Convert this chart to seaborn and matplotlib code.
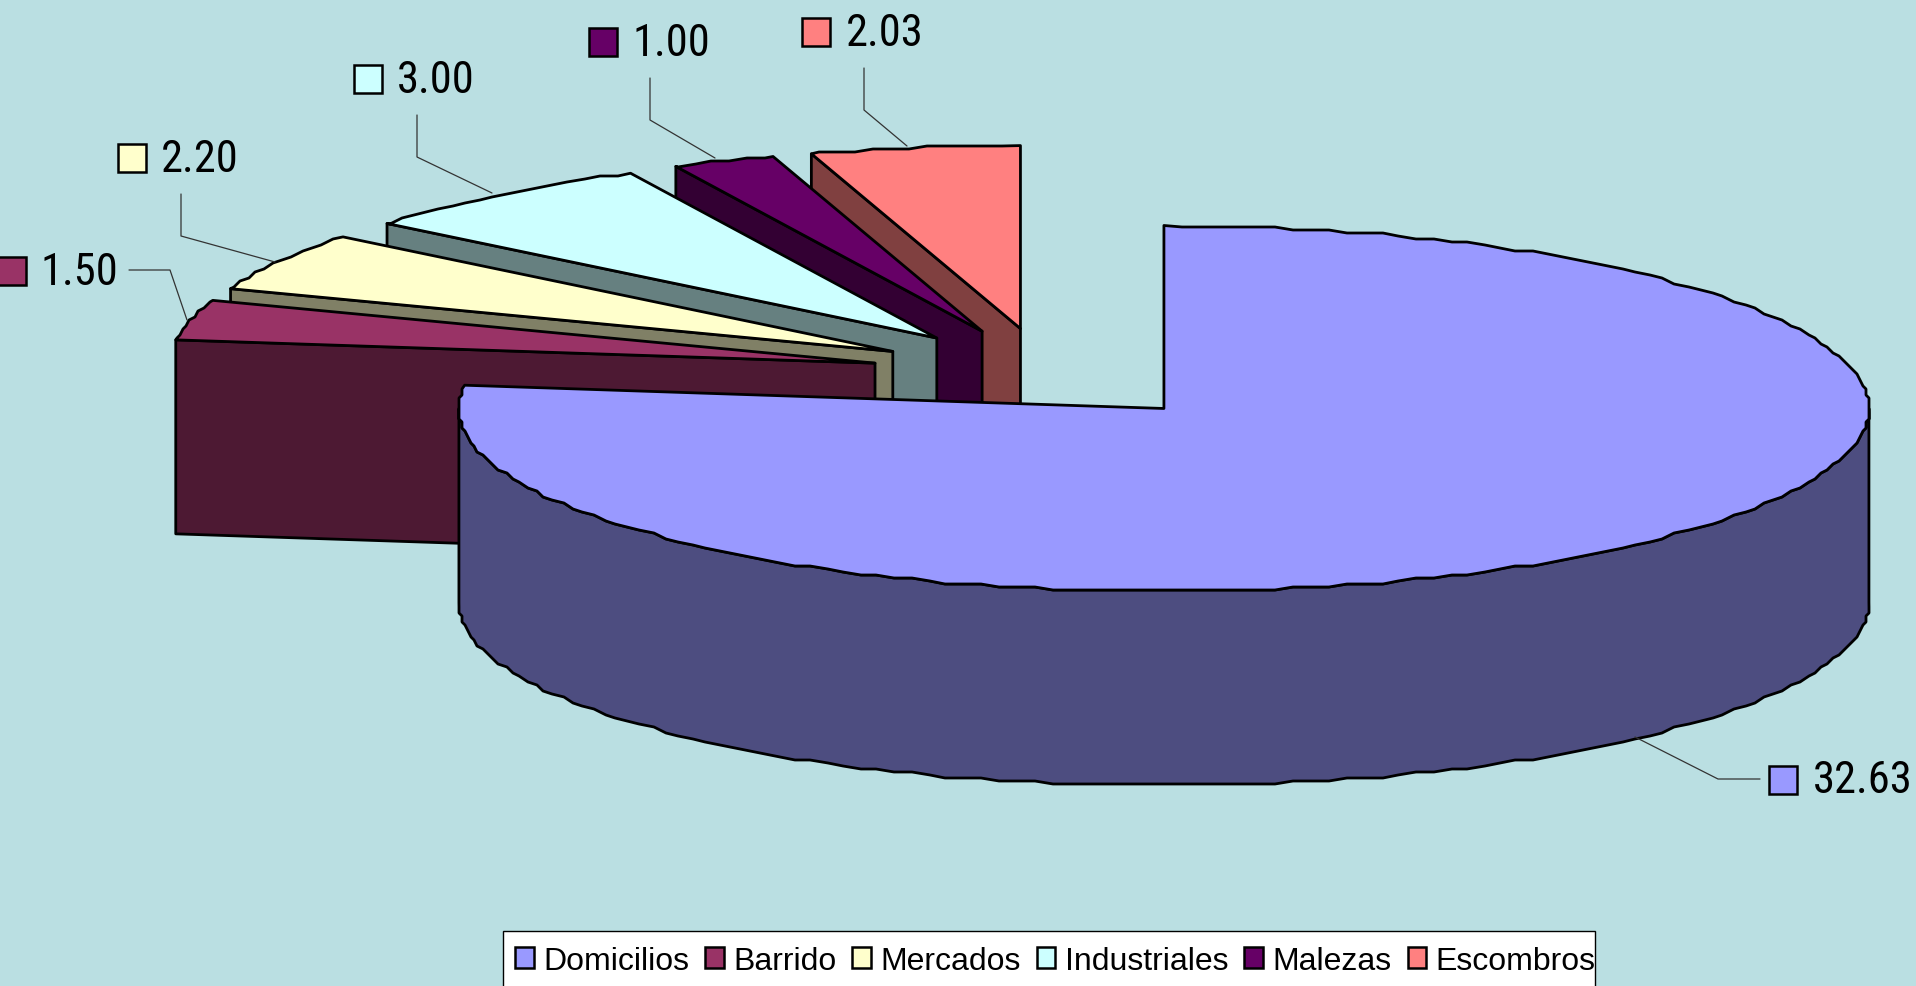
import numpy as np
import matplotlib
matplotlib.use("Agg")
import matplotlib.pyplot as plt
from matplotlib.patches import Patch, Rectangle
import seaborn as sns

categories = ["Domicilios", "Barrido", "Mercados", "Industriales", "Malezas", "Escombros"]
values = [32.63, 1.50, 2.20, 3.00, 1.00, 2.03]
value_labels = ["32.63", "1.50", "2.20", "3.00", "1.00", "2.03"]

top_colors = ["#9999FF", "#993366", "#FFFFCC", "#CCFFFF", "#660066", "#FF8080"]
side_colors = ["#4D4D80", "#4D1933", "#808066", "#668080", "#330033", "#804040"]
background = "#BADFE2"

# pie geometry, in pixels of the final image
center_x, center_y = 1047, 375
radius_x, radius_y = 705, 183
explode = 177
depth = 194
snap = 3  # the original outline is a rough polyline
step = 1.5

# label layout: marker left, marker top, text left, text baseline, leader line x / y
marker_x = [1769, -2, 118, 354, 589, 802]
marker_y = [767, 258, 145, 66, 29, 19]
text_x = [1813, 41, 161, 397, 633, 846]
text_y = [793, 285, 172, 93, 56, 46]
leader_x = [[1635, 1718, 1760], [129, 170, 187], [181, 181, 275],
            [417, 417, 492], [650, 650, 715], [864, 864, 907]]
leader_y = [[738, 780, 780], [271, 271, 321], [195, 237, 263],
            [116, 158, 194], [79, 121, 159], [69, 111, 147]]

sns.set_theme(style="white", rc={"figure.facecolor": background, "axes.facecolor": background})
plt.rcParams["font.family"] = ["Liberation Sans", "DejaVu Sans"]

fig = plt.figure(figsize=(19.16, 9.87), dpi=100)
ax = fig.add_axes([0, 0, 1, 1])
ax.set_xlim(0, 1916)
ax.set_ylim(987, 0)
ax.axis("off")

palette = sns.color_palette(top_colors)
sweeps = np.array(values) / np.sum(values) * 360
starts = np.concatenate([[0], np.cumsum(sweeps)[:-1]])


def arc(tip_x, tip_y, a0, a1):
    # same angle grid for every arc so the top and the wall line up
    grid = np.arange(np.ceil(a0 / step), np.floor(a1 / step) + 1) * step
    inner = grid[(grid > a0) & (grid < a1)]
    angles = np.radians(inner)
    xs = np.round((tip_x + radius_x * np.sin(angles)) / snap) * snap
    ys = np.round((tip_y - radius_y * np.cos(angles)) / snap) * snap
    ends = np.radians([a0, a1])
    ex = tip_x + radius_x * np.sin(ends)
    ey = tip_y - radius_y * np.cos(ends)
    return np.r_[ex[0], xs, ex[1]], np.r_[ey[0], ys, ey[1]]


# back slices first, the big one last
for i in range(len(values) - 1, -1, -1):
    a0 = starts[i]
    a1 = a0 + sweeps[i]
    mid = np.radians(a0 + sweeps[i] / 2)
    tip_x = center_x + explode * np.sin(mid)
    tip_y = center_y - explode * radius_y / radius_x * np.cos(mid)
    xs, ys = arc(tip_x, tip_y, a0, a1)

    if i == 0:
        # outer wall, only the front half can be seen
        wx, wy = arc(tip_x, tip_y, 90, 270)
        ax.fill(np.r_[wx, wx[::-1]], np.r_[wy, wy[::-1] + depth],
                facecolor=side_colors[i], edgecolor="black", lw=2.0, joinstyle="round")
    else:
        # cut face on the start side
        ax.fill([xs[0], tip_x, tip_x, xs[0]], [ys[0], tip_y, tip_y + depth, ys[0] + depth],
                facecolor=side_colors[i], edgecolor="black", lw=2.0, joinstyle="round")

    ax.fill(np.r_[tip_x, xs], np.r_[tip_y, ys],
            facecolor=palette[i], edgecolor="black", lw=2.0, joinstyle="round")

# value labels with their little colour boxes
for i in range(len(values)):
    sns.lineplot(x=leader_x[i], y=leader_y[i], sort=False, estimator=None, color="#333333",
                 lw=0.9, ax=ax, legend=False)
    ax.add_patch(Rectangle((marker_x[i], marker_y[i]), 28, 28, facecolor=top_colors[i],
                           edgecolor="black", lw=1.8))
    ax.text(text_x[i], text_y[i], value_labels[i], fontsize=32, color="black", ha="left",
            va="baseline", family=["Roboto Condensed", "Pathway Gothic One", "Liberation Sans"])

# legend box runs off the bottom of the picture, so it is drawn apart from the entries
ax.add_patch(Rectangle((503, 932), 1092, 70, facecolor="white", edgecolor="black", lw=1.0))
handles = [Patch(facecolor=c, edgecolor="black", lw=1.8) for c in top_colors]
ax.legend(handles, categories, ncols=6, loc="lower left", bbox_to_anchor=(515 / 1916, 0.0105),
          fontsize=23, frameon=False, labelcolor="black", handlelength=0.58, handleheight=0.6,
          handletextpad=0.3, columnspacing=0.5, borderpad=0, borderaxespad=0)

fig.savefig("out.png", dpi=100, facecolor=background)
